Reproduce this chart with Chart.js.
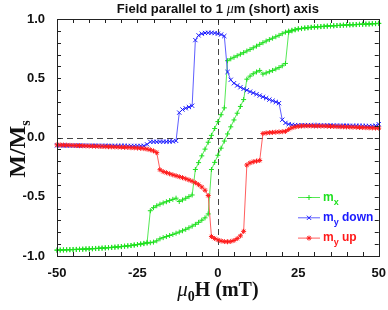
<!DOCTYPE html>
<html lang="en">
<head>
<meta charset="UTF-8" />
<title>Field parallel to 1 μm (short) axis</title>
<script src="https://cdn.jsdelivr.net/npm/chart.js"></script>
<style>
  html, body { margin: 0; padding: 0; background: #fff; }
  #wrap { width: 388px; height: 310px; }
</style>
</head>
<body>
<div id="wrap"><canvas id="chart" width="388" height="310"></canvas></div>
<script>
// field values (mT), sweep down then sweep up
const fieldDown = [50,49,48,47,46,45,44,43,42,41,40,39,38,37,36,35,34,33,32,31,30,29,28,27,26,25,24,23,22,21,20,19,18,17,16,15,14,13,12,11,10,9,8,7,6,5,4,3,2,1,0,-1,-2,-3,-4,-5,-6,-7,-8,-9,-10,-11,-12,-13,-14,-15,-16,-17,-18,-19,-20,-21,-22,-23,-24,-25,-26,-27,-28,-29,-30,-31,-32,-33,-34,-35,-36,-37,-38,-39,-40,-41,-42,-43,-44,-45,-46,-47,-48,-49,-50];
const fieldUp = [-50,-49,-48,-47,-46,-45,-44,-43,-42,-41,-40,-39,-38,-37,-36,-35,-34,-33,-32,-31,-30,-29,-28,-27,-26,-25,-24,-23,-22,-21,-20,-19,-18,-17,-16,-15,-14,-13,-12,-11,-10,-9,-8,-7,-6,-5,-4,-3,-2,-1,0,1,2,3,4,5,6,7,8,9,10,11,12,13,14,15,16,17,18,19,20,21,22,23,24,25,26,27,28,29,30,31,32,33,34,35,36,37,38,39,40,41,42,43,44,45,46,47,48,49,50];

// m_x on the down sweep (50 -> -50)
const mxDown = [
  0.963,0.961,0.960,0.958,0.957,0.956,0.955,0.953,0.952,0.951,
  0.950,0.948,0.946,0.945,0.943,0.942,0.940,0.938,0.936,0.934,
  0.932,0.930,0.927,0.924,0.921,0.918,0.912,0.905,0.898,0.889,
  0.876,0.862,0.850,0.838,0.826,0.814,0.800,0.786,0.771,0.757,
  0.743,0.730,0.716,0.703,0.690,0.677,0.664,0.648,0.250,0.192,
  0.134,
  0.076,0.018,-0.040,-0.098,-0.155,-0.212,-0.270,-0.485,-0.499,-0.513,
  -0.527,-0.540,-0.512,-0.522,-0.532,-0.542,-0.552,-0.563,-0.576,-0.592,
  -0.618,-0.885,-0.893,-0.898,-0.903,-0.907,-0.911,-0.914,-0.917,-0.920,
  -0.922,-0.925,-0.927,-0.929,-0.931,-0.933,-0.935,-0.936,-0.938,-0.939,
  -0.940,-0.942,-0.943,-0.944,-0.945,-0.946,-0.947,-0.948,-0.949,-0.950
];
// m_x on the up sweep (-50 -> 50)
const mxUp = [
  -0.951,-0.950,-0.949,-0.948,-0.947,-0.946,-0.945,-0.944,-0.943,-0.941,
  -0.940,-0.939,-0.937,-0.936,-0.934,-0.932,-0.930,-0.928,-0.926,-0.923,
  -0.921,-0.918,-0.915,-0.912,-0.908,-0.904,-0.900,-0.896,-0.892,-0.888,
  -0.883,-0.872,-0.855,-0.845,-0.836,-0.827,-0.818,-0.808,-0.798,-0.787,
  -0.775,-0.762,-0.748,-0.733,-0.716,-0.698,-0.678,-0.645,-0.270,-0.210,
  -0.150,
  -0.090,-0.030,0.030,0.090,0.148,0.205,0.262,0.320,0.492,0.518,
  0.538,0.553,0.566,0.535,0.545,0.555,0.566,0.578,0.590,0.605,
  0.625,0.888,0.900,0.908,0.915,0.919,0.923,0.926,0.929,0.932,
  0.934,0.936,0.938,0.940,0.942,0.943,0.945,0.946,0.948,0.950,
  0.951,0.952,0.953,0.955,0.956,0.957,0.958,0.960,0.961,0.963
];
// m_y down (50 -> -50)
const myDown = [
  0.112,0.100,0.097,0.097,0.098,0.098,0.098,0.099,0.099,0.099,
  0.100,0.100,0.100,0.101,0.101,0.101,0.102,0.102,0.102,0.103,
  0.103,0.103,0.103,0.104,0.104,0.104,0.105,0.107,0.112,0.123,
  0.150,0.290,0.300,0.310,0.320,0.332,0.343,0.354,0.365,0.376,
  0.387,0.399,0.411,0.424,0.439,0.458,0.487,0.553,0.856,0.869,
  0.876,
  0.881,0.884,0.884,0.882,0.876,0.862,0.822,0.268,0.257,0.247,
  0.236,0.210,-0.028,-0.033,-0.034,-0.035,-0.035,-0.035,-0.036,-0.036,
  -0.037,-0.058,-0.070,-0.071,-0.071,-0.071,-0.071,-0.071,-0.070,-0.070,
  -0.070,-0.070,-0.070,-0.070,-0.069,-0.069,-0.069,-0.069,-0.069,-0.069,
  -0.068,-0.068,-0.068,-0.068,-0.068,-0.068,-0.068,-0.067,-0.067,-0.067
];
// m_y up (-50 -> 50)
const myUp = [
  -0.062,-0.063,-0.064,-0.065,-0.066,-0.067,-0.068,-0.069,-0.070,-0.071,
  -0.072,-0.073,-0.074,-0.075,-0.076,-0.077,-0.078,-0.079,-0.080,-0.081,
  -0.082,-0.083,-0.084,-0.086,-0.087,-0.089,-0.091,-0.094,-0.098,-0.104,
  -0.113,-0.128,-0.272,-0.288,-0.297,-0.306,-0.315,-0.323,-0.331,-0.339,
  -0.348,-0.358,-0.369,-0.382,-0.398,-0.418,-0.445,-0.490,-0.836,-0.852,
  -0.864,
  -0.873,-0.878,-0.880,-0.877,-0.869,-0.853,-0.830,-0.792,-0.232,-0.214,
  -0.205,-0.199,-0.194,0.034,0.038,0.041,0.043,0.045,0.047,0.049,
  0.052,0.068,0.082,0.089,0.094,0.097,0.098,0.098,0.098,0.097,
  0.097,0.096,0.096,0.095,0.094,0.093,0.092,0.091,0.090,0.089,
  0.088,0.087,0.086,0.085,0.084,0.083,0.082,0.081,0.080,0.079
];

const xTicks = [-50, -25, 0, 25, 50];
const yTicks = [-1.0, -0.5, 0.0, 0.5, 1.0];

const pts = (xs, ys) => xs.map((v, i) => ({ x: v, y: ys[i] }));

const GREEN = '#1fe01f', BLUE = '#1a1aff', RED = '#ff1a1a';
const AXIS = '#222';
const SANS = '"Liberation Sans", Arial, sans-serif';
const SERIF = '"Liberation Serif", "Times New Roman", serif';

// draws text pieces (sub/superscripts) in a row
function drawRuns(ctx, runs, x, baseY, color, align) {
  let w = 0;
  runs.forEach(r => { ctx.font = r.font; r.w = ctx.measureText(r.text).width; w += r.w; });
  let xx = align === 'center' ? x - w / 2 : x;
  ctx.fillStyle = color;
  ctx.textAlign = 'left';
  ctx.textBaseline = 'alphabetic';
  runs.forEach(r => { ctx.font = r.font; ctx.fillText(r.text, xx, baseY + (r.dy || 0)); xx += r.w; });
}

const frame = {
  id: 'frame',
  beforeDatasetsDraw(chart) {
    const { ctx, chartArea: a, scales: { x, y } } = chart;
    ctx.save();
    ctx.strokeStyle = '#444';
    ctx.lineWidth = 1;
    ctx.setLineDash([6, 4]);
    const x0 = Math.round(x.getPixelForValue(0)) + 0.5;
    const y0 = Math.round(y.getPixelForValue(0)) + 0.5;
    ctx.beginPath();
    ctx.moveTo(x0, a.top); ctx.lineTo(x0, a.bottom);
    ctx.moveTo(a.left, y0); ctx.lineTo(a.right, y0);
    ctx.stroke();
    ctx.restore();
  },
  afterDraw(chart) {
    const { ctx, chartArea: a, scales: { x, y } } = chart;
    ctx.save();
    // box
    ctx.strokeStyle = AXIS;
    ctx.lineWidth = 1;
    ctx.strokeRect(Math.round(a.left) + 0.5, Math.round(a.top) + 0.5,
      Math.round(a.right - a.left), Math.round(a.bottom - a.top));
    // inward ticks on all four sides
    const tl = 4;
    ctx.beginPath();
    for (let i = 0; i <= 20; i++) {
      const px = Math.round(x.getPixelForValue(-50 + i * 5)) + 0.5;
      ctx.moveTo(px, a.bottom); ctx.lineTo(px, a.bottom - tl);
      ctx.moveTo(px, a.top); ctx.lineTo(px, a.top + tl);
    }
    for (let i = 0; i <= 20; i++) {
      const py = Math.round(y.getPixelForValue(-1 + i * 0.1)) + 0.5;
      ctx.moveTo(a.left, py); ctx.lineTo(a.left + tl, py);
      ctx.moveTo(a.right, py); ctx.lineTo(a.right - tl, py);
    }
    ctx.stroke();

    const cx = (a.left + a.right) / 2;
    // title
    drawRuns(ctx, [
      { text: 'Field parallel to 1 ', font: 'bold 13px ' + SANS },
      { text: 'μ', font: 'italic 14px ' + SERIF },
      { text: 'm (short) axis', font: 'bold 13px ' + SANS }
    ], cx, 13, '#111', 'center');

    // x axis title
    drawRuns(ctx, [
      { text: 'μ', font: 'italic 21px ' + SERIF },
      { text: '0', font: 'bold 14px ' + SERIF, dy: 5 },
      { text: 'H (mT)', font: 'bold 20px ' + SERIF }
    ], cx, 296, '#111', 'center');

    // y axis title
    ctx.save();
    ctx.translate(25, 149);
    ctx.rotate(-Math.PI / 2);
    drawRuns(ctx, [
      { text: 'M/M', font: 'bold 24px ' + SERIF },
      { text: 's', font: 'bold 14px ' + SERIF, dy: 5 }
    ], 0, 0, '#111', 'center');
    ctx.restore();

    // legend
    const rows = [
      { ds: 2, color: GREEN, runs: [['m', 0], ['x', 4]] },
      { ds: 1, color: BLUE, runs: [['m', 0], ['y', 4], [' down', 0]] },
      { ds: 0, color: RED, runs: [['m', 0], ['y', 4], [' up', 0]] }
    ];
    rows.forEach((r, i) => {
      const ly = 197.5 + i * 20.3;
      const d = chart.data.datasets[r.ds];
      ctx.strokeStyle = d.borderColor;
      ctx.lineWidth = 1;
      ctx.beginPath();
      ctx.moveTo(298, ly); ctx.lineTo(320, ly);
      ctx.stroke();
      ctx.strokeStyle = d.pointBorderColor;
      Chart.helpers.drawPoint(ctx, { pointStyle: d.pointStyle, radius: d.pointRadius, rotation: 0, borderWidth: 1 }, 309, ly);
      drawRuns(ctx, r.runs.map(([t, dy]) => ({ text: t, font: (dy ? 'bold 9px ' : 'bold 12px ') + SANS, dy })),
        323, ly + 3, r.color, 'left');
    });
    ctx.restore();
  }
};

new Chart(document.getElementById('chart'), {
  type: 'scatter',
  data: {
    datasets: [
      {
        label: 'm_y up', data: pts(fieldUp, myUp), showLine: true,
        borderColor: 'rgba(255,40,40,0.75)', borderWidth: 1,
        pointStyle: 'star', pointRadius: 2.5, pointBorderColor: RED, pointBorderWidth: 1,
        pointBackgroundColor: RED, clip: 3
      },
      {
        label: 'm_y down', data: pts(fieldDown, myDown), showLine: true,
        borderColor: 'rgba(40,40,255,0.75)', borderWidth: 1,
        pointStyle: 'crossRot', pointRadius: 3, pointBorderColor: BLUE, pointBorderWidth: 1,
        pointBackgroundColor: BLUE, clip: 3
      },
      {
        label: 'm_x', data: pts(fieldDown, mxDown).concat(pts(fieldUp, mxUp)), showLine: true,
        borderColor: 'rgba(30,224,30,0.75)', borderWidth: 1,
        pointStyle: 'cross', pointRadius: 2.5, pointBorderColor: GREEN, pointBorderWidth: 1,
        pointBackgroundColor: GREEN, clip: 3
      }
    ]
  },
  options: {
    responsive: false,
    animation: false,
    devicePixelRatio: 1,
    layout: { padding: { top: 19, right: 8, left: 0, bottom: 0 } },
    plugins: { legend: { display: false }, title: { display: false }, tooltip: { enabled: false } },
    scales: {
      x: {
        type: 'linear', min: -50, max: 50,
        afterBuildTicks: s => { s.ticks = xTicks.map(v => ({ value: v })); },
        afterFit: s => { s.height = 54; },
        grid: { display: false }, border: { display: false },
        ticks: { color: '#111', font: { family: SANS, size: 13, weight: 'bold' }, padding: 2, maxRotation: 0 }
      },
      y: {
        type: 'linear', min: -1, max: 1,
        afterBuildTicks: s => { s.ticks = yTicks.map(v => ({ value: v })); },
        afterFit: s => { s.width = 57; },
        grid: { display: false }, border: { display: false },
        ticks: { color: '#111', font: { family: SANS, size: 13, weight: 'bold' }, padding: 4,
          callback: v => v.toFixed(1) }
      }
    }
  },
  plugins: [frame]
});
</script>
</body>
</html>
